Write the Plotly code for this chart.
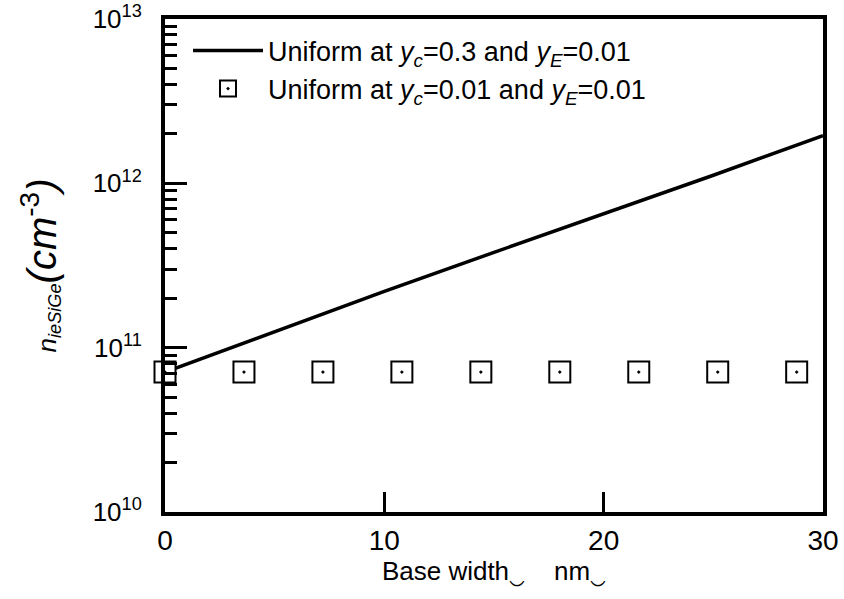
import plotly.graph_objects as go

# Data
x_line = [0, 5, 10, 15, 20, 25, 30]
y_line = [7.1e10, 1.25e11, 2.2e11, 3.8e11, 6.5e11, 1.12e12, 1.95e12]

x_sq = [0, 3.6, 7.2, 10.8, 14.4, 18.0, 21.6, 25.2, 28.8]
y_sq = [7.1e10] * 9

x_ticks = [0, 10, 20, 30]
y_tick_vals = [1e10, 1e11, 1e12, 1e13]
y_tick_text = ["10<sup>10</sup>", "10<sup>11</sup>", "10<sup>12</sup>", "10<sup>13</sup>"]
y_minor = [m * 10 ** e for e in (10, 11, 12) for m in range(2, 10)]

name_line = "Uniform at <i>y</i><sub><i>c</i></sub>=0.3 and <i>y</i><sub><i>E</i></sub>=0.01"
name_sq = "Uniform at <i>y</i><sub><i>c</i></sub>=0.01 and <i>y</i><sub><i>E</i></sub>=0.01"

fig = go.Figure()
fig.add_trace(go.Scatter(x=x_line, y=y_line, mode="lines", name=name_line,
                         line=dict(color="black", width=3.5)))
fig.add_trace(go.Scatter(x=x_sq, y=y_sq, mode="markers", showlegend=False,
                         hoverinfo="skip", cliponaxis=False,
                         marker=dict(symbol="square", size=21, color="white",
                                     line=dict(width=0))))
fig.add_trace(go.Scatter(x=x_sq, y=y_sq, mode="markers", name=name_sq,
                         cliponaxis=False,
                         marker=dict(symbol="square-open-dot", size=21, color="black",
                                     line=dict(width=2, color="black"))))

fig.update_layout(
    width=844, height=599,
    margin=dict(l=165, r=21, t=19, b=87),
    paper_bgcolor="white", plot_bgcolor="white",
    font=dict(family="Liberation Sans, Arial, sans-serif", color="black"),
    showlegend=True,
    legend=dict(x=0.035, y=0.985, xanchor="left", yanchor="top",
                bgcolor="rgba(0,0,0,0)", font=dict(size=27),
                itemwidth=70, tracegroupgap=0),
    xaxis=dict(
        range=[0, 30], tickvals=x_ticks, ticks="inside", ticklen=20, tickwidth=3,
        tickcolor="black", showline=True, linewidth=4, linecolor="black",
        mirror=True, showgrid=False, zeroline=False, automargin=False,
        tickfont=dict(size=28),
        title=dict(text="Base width\u203f    nm\u203f", font=dict(size=26), standoff=6),
    ),
    yaxis=dict(
        type="log", range=[10, 13], tickvals=y_tick_vals, ticktext=y_tick_text,
        ticks="inside", ticklen=22, tickwidth=3, tickcolor="black",
        minor=dict(tickvals=y_minor, ticks="inside", ticklen=12, tickwidth=3,
                   tickcolor="black"),
        showline=True, linewidth=4, linecolor="black", mirror=True,
        showgrid=False, zeroline=False, automargin=False,
        ticklabelstandoff=14, ticklabeloverflow="allow",
        tickfont=dict(size=26),
        title=dict(text='<i>n</i><sub><i>ieSiGe</i></sub>'
                        '<span style="font-size:40px"><i>(cm</i><sup>-3</sup><i>)</i></span>',
                   font=dict(size=26), standoff=30),
    ),
)

fig.write_html("out.html", config={"displayModeBar": False},
               post_script="document.body.style.margin='0px';")
